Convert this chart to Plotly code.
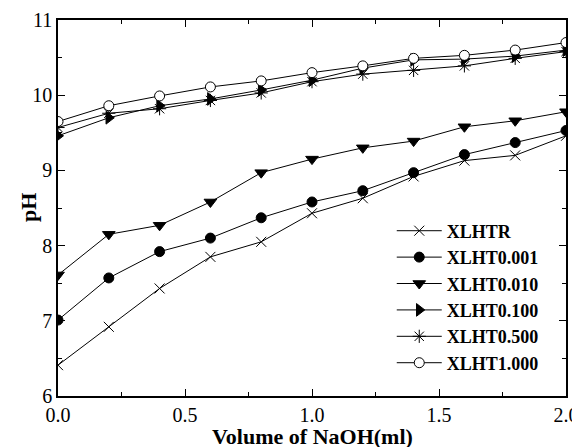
import plotly.graph_objects as go

volume = [0.0, 0.2, 0.4, 0.6, 0.8, 1.0, 1.2, 1.4, 1.6, 1.8, 2.0]
ph_xlhtr = [6.41, 6.92, 7.43, 7.85, 8.05, 8.43, 8.63, 8.92, 9.13, 9.20, 9.46]
ph_0001 = [7.01, 7.57, 7.92, 8.10, 8.37, 8.58, 8.73, 8.97, 9.21, 9.37, 9.53]
ph_0010 = [7.61, 8.15, 8.27, 8.58, 8.97, 9.15, 9.30, 9.39, 9.58, 9.66, 9.78]
ph_0100 = [9.46, 9.70, 9.86, 9.95, 10.07, 10.20, 10.36, 10.47, 10.48, 10.52, 10.60]
ph_0500 = [9.57, 9.76, 9.82, 9.93, 10.03, 10.18, 10.28, 10.33, 10.39, 10.49, 10.58]
ph_1000 = [9.65, 9.86, 9.99, 10.11, 10.19, 10.30, 10.39, 10.49, 10.53, 10.60, 10.70]

names = ["XLHTR", "XLHT0.001", "XLHT0.010", "XLHT0.100", "XLHT0.500", "XLHT1.000"]
series = [ph_xlhtr, ph_0001, ph_0010, ph_0100, ph_0500, ph_1000]
symbols = ["x-thin-open", "circle", "triangle-down", "triangle-right", "asterisk-open", "circle"]
fills = ["black", "black", "black", "black", "black", "white"]
sizes = [10, 10, 11, 11, 11, 10]

FONT = "Liberation Serif, Times New Roman, serif"

fig = go.Figure()
for n, ys, sym, fc, sz in zip(names, series, symbols, fills, sizes):
    fig.add_trace(go.Scatter(
        x=volume, y=ys, name=n, mode="lines+markers",
        line=dict(color="black", width=1),
        marker=dict(symbol=sym, size=sz, color=fc,
                    line=dict(color="black", width=1)),
    ))

axis_common = dict(
    showline=True, linecolor="black", linewidth=1.5, mirror="ticks",
    ticks="inside", ticklen=7, tickwidth=1.2, tickcolor="black",
    showgrid=False, zeroline=False, automargin=False,
    tickfont=dict(family=FONT, size=20, color="black"),
)

fig.update_xaxes(
    range=[0, 2.0], dtick=0.5, tickformat=".1f",
    minor=dict(dtick=0.25, ticks="inside", ticklen=4, tickcolor="black"),
    **axis_common,
)
fig.update_yaxes(
    range=[6, 11], dtick=1,
    minor=dict(dtick=0.5, ticks="inside", ticklen=4, tickcolor="black"),
    **axis_common,
)

fig.add_annotation(
    text="<b>pH</b>", xref="paper", yref="paper", x=-0.059, y=0.5,
    xanchor="center", yanchor="middle", textangle=-90, showarrow=False,
    font=dict(family=FONT, size=22, color="black"),
)
fig.add_annotation(
    text="<b>Volume of NaOH(ml)</b>", xref="paper", yref="paper", x=0.5, y=-0.109,
    xanchor="center", yanchor="middle", showarrow=False,
    font=dict(family=FONT, size=22, color="black"),
)

fig.update_layout(
    width=572, height=439,
    margin=dict(l=50, r=14, t=12, b=51),
    paper_bgcolor="white", plot_bgcolor="white",
    showlegend=True,
    legend=dict(
        x=0.657, y=0.488, xanchor="left", yanchor="top",
        bgcolor="rgba(0,0,0,0)", borderwidth=0,
        font=dict(family=FONT, size=18, color="black", weight="bold"),
        itemwidth=45, tracegroupgap=0,
    ),
)

fig.write_html("out.html")
